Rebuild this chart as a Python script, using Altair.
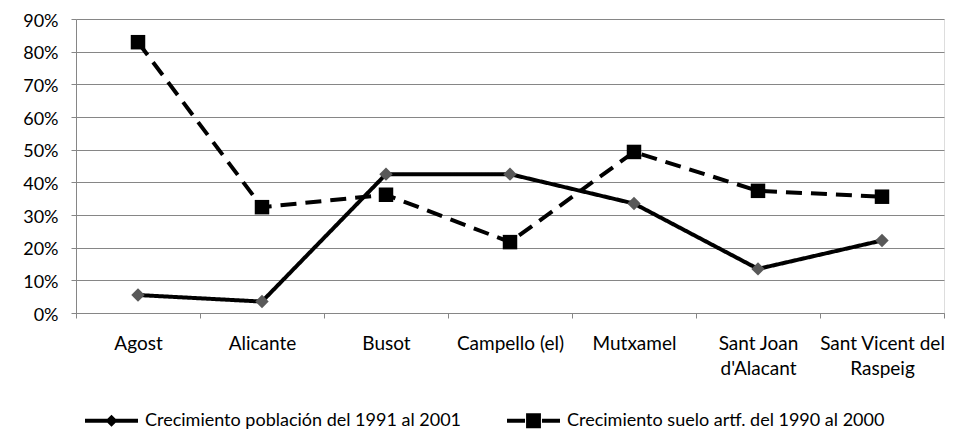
import json
import altair as alt
import pandas as pd

categories = ["Agost", "Alicante", "Busot", "Campello (el)", "Mutxamel",
              "Sant Joan d'Alacant", "Sant Vicent del Raspeig"]
label_lines = {
    "Sant Joan d'Alacant": ["Sant Joan", "d'Alacant"],
    "Sant Vicent del Raspeig": ["Sant Vicent del", "Raspeig"],
}
series_names = ["Crecimiento población del 1991 al 2001",
                "Crecimiento suelo artf. del 1990 al 2000"]
poblacion = [0.055, 0.035, 0.425, 0.425, 0.335, 0.135, 0.222]
suelo = [0.829, 0.324, 0.362, 0.217, 0.493, 0.374, 0.356]

rows = []
for c, v in zip(categories, poblacion):
    rows.append({"cat": c, "series": series_names[0], "value": v})
for c, v in zip(categories, suelo):
    rows.append({"cat": c, "series": series_names[1], "value": v})
df = pd.DataFrame(rows)

font = "Lato"
fs = 19
label_expr = "(" + json.dumps(label_lines) + ")[datum.value] || datum.value"

x = alt.X("cat:N", sort=categories, title=None,
          scale=alt.Scale(type="band", domain=categories, paddingInner=0, paddingOuter=0),
          bandPosition=0.5,
          axis=alt.Axis(labelAngle=0, tickBand="extent", labelExpr=label_expr,
                        labelPadding=16, tickSize=5, grid=False,
                        domainColor="#868686", tickColor="#868686",
                        labelFont=font, labelFontSize=fs, labelColor="#000000",
                        labelLineHeight=25, labelBaseline="top"))
y = alt.Y("value:Q", title=None,
          scale=alt.Scale(domain=[0, 0.9], nice=False),
          axis=alt.Axis(format=".0%", values=[i / 10 for i in range(10)],
                        grid=True, gridColor="#868686", gridWidth=1,
                        domainColor="#868686", tickColor="#868686", tickSize=5,
                        labelFont=font, labelFontSize=18, labelColor="#000000",
                        labelPadding=13, labelOffset=2))

base = alt.Chart(df)

lines = base.mark_line(color="black", strokeWidth=4).encode(
    x=x, y=y,
    strokeDash=alt.StrokeDash("series:N", legend=None,
                              scale=alt.Scale(domain=series_names, range=[[1, 0], [16, 9]])),
    detail="series:N",
)

points = base.mark_point(filled=True, opacity=1).encode(
    x=x, y=y,
    shape=alt.Shape("series:N", legend=None,
                    scale=alt.Scale(domain=series_names, range=["diamond", "square"])),
    size=alt.Size("series:N", legend=None,
                  scale=alt.Scale(domain=series_names, range=[180, 210])),
    color=alt.Color("series:N", legend=None,
                    scale=alt.Scale(domain=series_names, range=["#595959", "#000000"])),
)

sym_solid = ("M-1,-0.075 L1,-0.075 L1,0.075 L-1,0.075 Z "
             "M0,-0.23 L0.23,0 L0,0.23 L-0.23,0 Z")
sym_dash = ("M-1,-0.075 L-0.32,-0.075 L-0.32,0.075 L-1,0.075 Z "
            "M0.32,-0.075 L1,-0.075 L1,0.075 L0.32,0.075 Z "
            "M-0.28,-0.28 L0.28,-0.28 L0.28,0.28 L-0.28,0.28 Z")

legend_layer = base.mark_point(filled=True, opacity=0, color="black").encode(
    x=x, y=y,
    shape=alt.Shape("series:N", title=None,
                    scale=alt.Scale(domain=series_names, range=[sym_solid, sym_dash]),
                    legend=alt.Legend(orient="none", direction="horizontal",
                                      legendX=9, legendY=375,
                                      symbolSize=2809, symbolOpacity=1,
                                      symbolFillColor="black", symbolStrokeWidth=0,
                                      labelFont=font, labelFontSize=18, labelColor="#000000",
                                      labelOffset=7, columnPadding=45, symbolLimit=0,
                                      labelLimit=400)),
)

chart = alt.layer(lines, points, legend_layer).resolve_scale(
    shape="independent"
).properties(
    width=868, height=294,
    autosize=alt.AutoSizeParams(type="none"),
    padding={"left": 68, "top": 11, "right": 12, "bottom": 120},
).configure_view(stroke=None).configure(background="white")

chart.save("out.html", embed_options={"renderer": "svg", "actions": False})
